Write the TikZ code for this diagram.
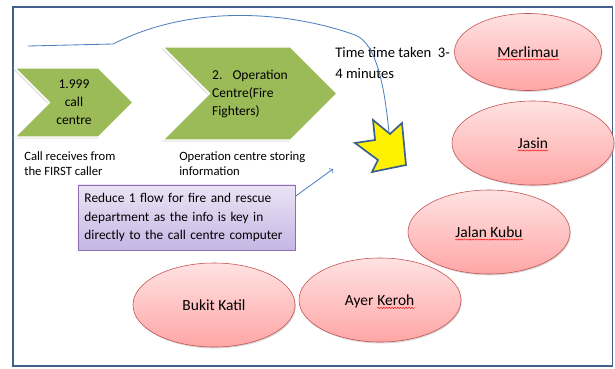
\documentclass[tikz,border=0pt]{standalone}
\usepackage{fontspec}
\setmainfont{Carlito}
\usetikzlibrary{shapes.geometric, shapes.symbols, shadows}
\usetikzlibrary{decorations.pathmorphing}
\usetikzlibrary{positioning}
\definecolor{chgreen}{RGB}{155,187,89}
\definecolor{offblue}{RGB}{79,129,189}
\definecolor{framecol}{RGB}{66,96,138}
\definecolor{townred}{RGB}{192,80,77}
\definecolor{towntop}{RGB}{255,226,226}
\definecolor{townbot}{RGB}{255,166,166}
\definecolor{noteline}{RGB}{140,110,180}
\definecolor{notetop}{RGB}{234,228,245}
\definecolor{notebot}{RGB}{198,182,228}
\definecolor{starline}{RGB}{60,95,140}
\tikzset{
  outer/.style={draw=framecol, line width=1.2pt},
  ch/.style={signal, signal from=west, signal to=east, signal pointer angle=90, fill=chgreen, draw=white, line width=1pt, inner sep=2pt, drop shadow={shadow xshift=-1.2pt, shadow yshift=-1.2pt, fill=black!30, opacity=0.35}, font=\fontsize{9.6}{12.8}\selectfont},
  lbl/.style={align=left, inner sep=0pt, font=\fontsize{9}{11.3}\selectfont},
  note/.style={rectangle, draw=noteline, top color=notetop, bottom color=notebot, minimum width=5.425cm, minimum height=1.625cm, text width=5.1cm, inner xsep=0.15cm, align=left, drop shadow={shadow xshift=0.8pt, shadow yshift=-0.8pt, fill=black!30, opacity=0.5}, font=\fontsize{9.5}{13.1}\selectfont},
  town/.style={ellipse, draw=townred, top color=towntop, bottom color=townbot, minimum width=4.05cm, minimum height=2.1cm, inner sep=0pt, drop shadow={shadow xshift=0.6pt, shadow yshift=-1pt, fill=black!30, opacity=0.5}},
  word/.style={inner sep=0pt, font=\fontsize{11}{13}\selectfont},
  squig/.style={draw=red, line width=0.3pt, decorate, decoration={snake, amplitude=0.45pt, segment length=2pt}},
  burst/.style={fill=yellow, draw=starline, line width=1.2pt, line join=miter},
  flow/.style={draw=offblue, line width=0.6pt}
}
\begin{document}
\begin{tikzpicture}[x=0.025cm, y=-0.025cm]
\useasboundingbox (0,0) rectangle (615,368);
\draw[outer] (13,7) rectangle (612.5,366);

\node[ch, minimum width=2.95cm, minimum height=1.725cm, align=center] (c1) at (74,102.5) {1.999\\call\\centre};
\node[ch, minimum width=4.35cm, minimum height=2.325cm, align=left] (c2) at (250,93.5) {2.\hspace{0.75em}Operation\\Centre(Fire\\Fighters)};
\node[lbl, anchor=north west] (cap1) at (24,151) {Call receives from\\the FIRST caller};
\node[lbl, anchor=north west] (cap2) at (179,151) {Operation centre storing\\information};
\node[lbl, anchor=north west, font=\fontsize{10.4}{15}\selectfont] (time) at (335,47) {Time time taken\ \ 3-\\4 minutes};

\node[note] (note) at (186.5,217.5) {Reduce 1 flow for fire and rescue\\department as the info is key in\\directly to the call centre computer};

% places
\node[town, minimum width=3.675cm, minimum height=1.925cm] (mer) at (528,52) {};
\node[town] (jas) at (533,143) {};
\node[town] (jal) at (489,232) {};
\node[town] (ayr) at (380,300) {};
\node[town] (buk) at (214,305) {};
\node[word] (merW) at (mer) {Merlimau};
\node[word] (jasW) at (jas) {Jasin};
\node[word] (jalW) at (jal) {Jalan Kubu};
\node[word, anchor=base west] (kerW) at ([xshift=-2pt, yshift=-4pt]ayr.center) {Keroh};
\node[word, anchor=base east] (ayrW) at ([xshift=-2.5pt]kerW.base west) {Ayer};
\node[word] (bukW) at (buk) {Bukit Katil};
\foreach \w in {merW, jasW, jalW, kerW}
  \draw[squig] ([yshift=-1.6pt]\w.base west) -- ([yshift=-1.6pt]\w.base east);

\draw[burst] (373,120) -- (390,134) -- (402,123) -- (406,165) -- (372,172) -- (378,160) -- (355,143) -- (375,140) -- cycle;
\coordinate (hit) at (389,133);
\coordinate (go) at (28,46);
\coordinate (tip) at (333,169);

\draw[flow] (go) -- (113,44) .. controls (200,0) and (300,15) .. (355,35) .. controls (377,43) and (385,90) .. (hit);
\draw[flow, ->] (note.11) -- (tip);
\end{tikzpicture}
\end{document}
